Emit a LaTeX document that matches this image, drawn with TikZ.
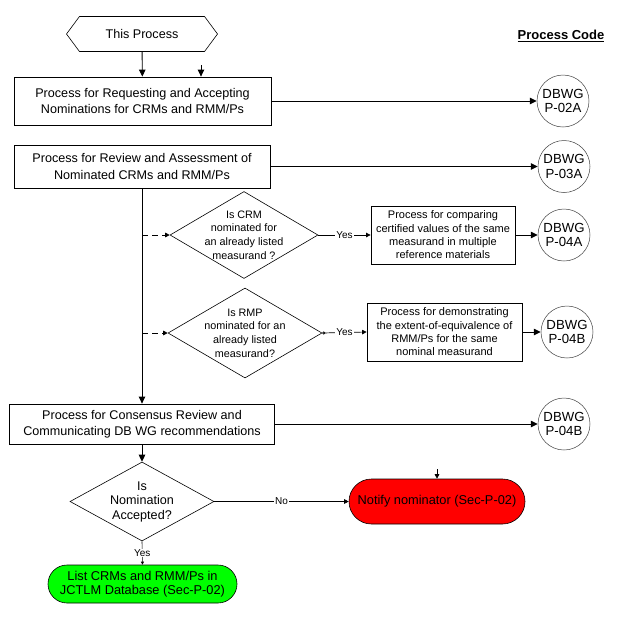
\documentclass[tikz,border=0pt]{standalone}
\usepackage{fontspec}
\setmainfont{Liberation Sans}
\usetikzlibrary{shapes.geometric,shapes.symbols,shapes.misc,arrows.meta}
\definecolor{notifyred}{HTML}{FF0000}
\definecolor{listgreen}{HTML}{00FF00}
\tikzset{
    procbox/.style={rectangle, draw, line width=0.8pt, align=center, inner sep=0pt, font=\fontsize{12.6}{16.3}\selectfont},
    subbox/.style={rectangle, draw, line width=0.8pt, align=center, inner sep=0pt, font=\fontsize{11}{13.3}\selectfont},
    codecircle/.style={circle, draw=black!75, line width=0.5pt, minimum size=52pt, inner sep=0pt, align=center, font=\fontsize{13.2}{14.5}\selectfont},
    decision/.style={diamond, draw, line width=0.6pt, align=center, inner sep=-16pt},
    terminal/.style={rounded rectangle, draw, line width=0.6pt, align=center, inner sep=0pt, font=\fontsize{12.8}{14.5}\selectfont},
    flow/.style={-{Triangle[length=7pt,width=6.5pt]}, line width=0.9pt},
    flowsmall/.style={-{Triangle[length=4.5pt,width=4.5pt]}, line width=0.7pt},
    lbl/.style={fill=white, inner sep=1pt, font=\fontsize{10}{11}\selectfont}
}
\begin{document}
\begin{tikzpicture}[x=1pt, y=-1pt]
\useasboundingbox (0,0) rectangle (632,619);

% Start and heading
\node[signal, signal to=west and east, signal pointer angle=107, draw, line width=0.6pt, minimum width=151pt, minimum height=35pt, inner sep=0pt, font=\fontsize{12.6}{14}\selectfont] (this) at (142,34) {This Process};
\node[font=\bfseries\fontsize{13}{14}\selectfont] (code) at (561,36) {\underline{Process Code}};

% Process boxes
\node[procbox, minimum width=257pt, minimum height=48pt] (request) at (142.5,101) {Process for Requesting and Accepting\\Nominations for CRMs and RMM/Ps};
\node[procbox, minimum width=256pt, minimum height=43pt] (review) at (142,166.5) {Process for Review and Assessment of\\Nominated CRMs and RMM/Ps};
\node[procbox, minimum width=265pt, minimum height=40pt] (consensus) at (142,424) {Process for Consensus Review and\\Communicating DB WG recommendations};

% Decisions
\node[decision, minimum width=148pt, minimum height=87pt, font=\fontsize{10.8}{13.6}\selectfont] (crm) at (244,235) {Is CRM\\nominated for\\an already listed\\measurand ?};
\node[decision, minimum width=154pt, minimum height=90pt, font=\fontsize{10.8}{13.6}\selectfont] (rmp) at (245,333) {Is RMP\\nominated for an\\already listed\\measurand?};
\node[decision, minimum width=144pt, minimum height=79pt, font=\fontsize{12.6}{14.5}\selectfont] (accepted) at (142,501.5) {Is\\Nomination\\Accepted?};

% Sub-processes
\node[subbox, minimum width=144pt, minimum height=58pt] (compare) at (443,235) {Process for comparing\\certified values of the same\\measurand in multiple\\reference materials};
\node[subbox, minimum width=155pt, minimum height=58pt] (equiv) at (444.5,332) {Process for demonstrating\\the extent-of-equivalence of\\RMM/Ps for the same\\nominal measurand};

% Terminals
\node[terminal, fill=notifyred, minimum width=176pt, minimum height=45pt] (notify) at (437,501.5) {Notify nominator (Sec-P-02)};
\node[terminal, fill=listgreen, minimum width=189pt, minimum height=38pt] (list) at (142.5,584) {List CRMs and RMM/Ps in\\JCTLM Database (Sec-P-02)};

% Process codes
\node[codecircle] (p02a) at (563,101) {DBWG\\P-02A};
\node[codecircle] (p03a) at (564,166.5) {DBWG\\P-03A};
\node[codecircle] (p04a) at (564,235) {DBWG\\P-04A};
\node[codecircle] (p04b) at (567,332) {DBWG\\P-04B};
\node[codecircle] (p04bb) at (564,424) {DBWG\\P-04B};

% Free ends
\coordinate (in1) at (201,65);
\coordinate (in2) at (437,469);

% Arrows
\draw[flow] (this) -- (request);
\draw[flow] (in1) -- (in1 |- request.north);
\draw[flow] (request) -- (p02a);
\draw[flow] (review) -- (p03a);
\draw[flow] (review) -- (consensus);
\draw[flowsmall, dash pattern=on 6pt off 4pt] (review.south |- crm.west) -- (crm.west);
\draw[flowsmall, dash pattern=on 6pt off 4pt] (review.south |- rmp.west) -- (rmp.west);
\draw[flowsmall] (crm.east) -- node[lbl] {Yes} (compare.west);
\draw[{Circle[open,length=3pt]}-{Triangle[length=4.5pt,width=4.5pt]}, line width=0.7pt] (rmp.east) -- node[lbl] {Yes} (equiv.west);
\draw[flow] (compare) -- (p04a);
\draw[flow] (equiv) -- (p04b);
\draw[flow] (consensus) -- (p04bb);
\draw[flow] (consensus) -- (accepted);
\draw[flowsmall] (accepted.east) -- node[lbl] {No} (notify.west);
\draw[flowsmall] (in2) -- (notify.north);
\draw[-{Triangle[length=3pt,width=3pt]}, line width=0.6pt] (accepted.south) -- node[lbl] {Yes} (list.north);

\end{tikzpicture}
\end{document}
